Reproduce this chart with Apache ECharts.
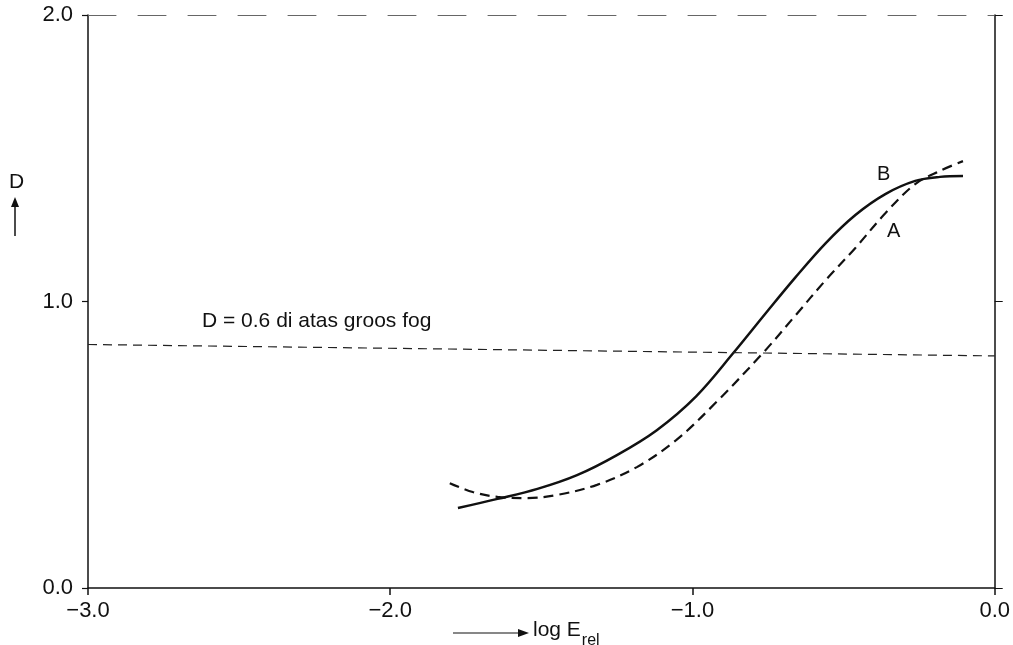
<!DOCTYPE html>
<html>
<head>
<meta charset="utf-8">
<script src="https://cdn.jsdelivr.net/npm/echarts@6/dist/echarts.min.js"></script>
<style>
  html, body { margin: 0; padding: 0; background: #fff; }
  #chart { width: 1013px; height: 645px; }
</style>
</head>
<body>
<div id="chart"></div>
<script>
// curve B (solid): [log E_rel, D]
const curveB = [
  [-1.776, 0.279], [-1.645, 0.311], [-1.513, 0.346], [-1.382, 0.394],
  [-1.250, 0.464], [-1.118, 0.551], [-0.987, 0.670], [-0.865, 0.820],
  [-0.757, 0.960], [-0.658, 1.086], [-0.559, 1.204], [-0.461, 1.302],
  [-0.362, 1.375], [-0.263, 1.421], [-0.181, 1.435], [-0.105, 1.438]
];
// curve A (dashed)
const curveA = [
  [-1.803, 0.366], [-1.727, 0.335], [-1.645, 0.318], [-1.546, 0.314],
  [-1.447, 0.325], [-1.316, 0.360], [-1.184, 0.422], [-1.053, 0.517],
  [-0.921, 0.649], [-0.767, 0.820], [-0.658, 0.953], [-0.559, 1.075],
  [-0.461, 1.187], [-0.362, 1.308], [-0.263, 1.410], [-0.181, 1.456],
  [-0.105, 1.490]
];
// level D = 0.6 above gross fog (slightly tilted in the scan)
const fogLine = [[-3.0, 0.85], [0.0, 0.81]];

const font = '"Liberation Sans", Arial, sans-serif';
const fmt = v => (v < 0 ? '\u2212' : '') + Math.abs(v).toFixed(1);

const chart = echarts.init(document.getElementById('chart'));

const options = {
  animation: false,
  grid: { left: 88, right: 12, top: 15, bottom: 57 },
  xAxis: [{
    type: 'value', min: -3, max: 0, interval: 1,
    axisLine: { show: true, onZero: false, lineStyle: { color: '#111', width: 1.5 } },
    axisTick: { show: true, length: 7, lineStyle: { color: '#111', width: 1.5 } },
    axisLabel: {
      formatter: fmt, fontFamily: font, fontSize: 22, color: '#111', margin: 12
    },
    splitLine: { show: false }
  }, {
    type: 'value', min: -3, max: 0, interval: 1, position: 'top',
    axisLine: { show: true, onZero: false, lineStyle: { color: '#666', width: 1, type: [28, 22] } },
    axisTick: { show: false }, axisLabel: { show: false }, splitLine: { show: false }
  }],
  yAxis: [{
    type: 'value', min: 0, max: 2, interval: 1,
    axisLine: { show: true, onZero: false, lineStyle: { color: '#111', width: 1.5 } },
    axisTick: { show: true, length: 6, lineStyle: { color: '#111', width: 1.2 } },
    axisLabel: {
      formatter: fmt, fontFamily: font, fontSize: 22, color: '#111', margin: 15
    },
    splitLine: { show: false }
  }, {
    type: 'value', min: 0, max: 2, interval: 1, position: 'right',
    axisLine: { show: true, onZero: false, lineStyle: { color: '#111', width: 1.5 } },
    axisTick: { show: true, length: 8, lineStyle: { color: '#111', width: 1 } },
    axisLabel: { show: false }, splitLine: { show: false }
  }],
  series: [{
    name: 'B', type: 'line', data: curveB, smooth: 0.35, symbol: 'none',
    lineStyle: { color: '#111', width: 2.5 }
  }, {
    name: 'A', type: 'line', data: curveA, smooth: 0.35, symbol: 'none',
    lineStyle: { color: '#111', width: 2.2, type: [10, 6] }
  }, {
    name: 'fog', type: 'line', data: fogLine, symbol: 'none',
    lineStyle: { color: '#222', width: 1.2, type: [9, 6] }
  }],
  graphic: [
    { type: 'text', left: 202, top: 311,
      style: { text: 'D = 0.6 di atas groos fog', font: '21px ' + font, fill: '#111' } },
    { type: 'text', left: 877, top: 164,
      style: { text: 'B', font: '20px ' + font, fill: '#111' } },
    { type: 'text', left: 887, top: 221,
      style: { text: 'A', font: '20px ' + font, fill: '#111' } },
    // y axis title with arrow
    { type: 'text', left: 9, top: 172,
      style: { text: 'D', font: '21px ' + font, fill: '#111' } },
    { type: 'line', shape: { x1: 15, y1: 236, x2: 15, y2: 201 },
      style: { stroke: '#111', lineWidth: 1.5 } },
    { type: 'polygon', shape: { points: [[11, 207], [15, 197], [19, 207]] },
      style: { fill: '#111' } },
    // x axis title with arrow
    { type: 'line', shape: { x1: 453, y1: 633, x2: 524, y2: 633 },
      style: { stroke: '#111', lineWidth: 1.2 } },
    { type: 'polygon', shape: { points: [[518, 629], [529, 633], [518, 637]] },
      style: { fill: '#111' } },
    { type: 'text', left: 533, top: 620,
      style: {
        text: '{a|log E}{s|rel}',
        rich: {
          a: { font: '21px ' + font, fill: '#111' },
          s: { font: '16px ' + font, fill: '#111', padding: [20, 0, 0, 1] }
        }
      } }
  ]
};

chart.setOption(options);
</script>
</body>
</html>
